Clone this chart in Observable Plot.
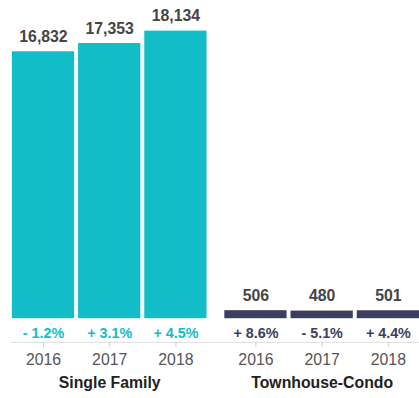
<!DOCTYPE html>
<html>
<head>
<meta charset="utf-8">
<script src="https://cdn.jsdelivr.net/npm/d3@7"></script>
<script src="https://cdn.jsdelivr.net/npm/@observablehq/plot@0.6"></script>
<style>
  html, body { margin: 0; padding: 0; background: #fff; overflow: hidden; }
  #chart { width: 419px; height: 398px; overflow: hidden; }
</style>
</head>
<body>
<div id="chart"></div>
<script>
const groupNames = ["Single Family", "Townhouse-Condo"];
const groups = ["Single Family", "Single Family", "Single Family", "Townhouse-Condo", "Townhouse-Condo", "Townhouse-Condo"];
const years = ["2016", "2017", "2018", "2016", "2017", "2018"];
const values = [16832, 17353, 18134, 506, 480, 501];
const changes = [-1.2, 3.1, 4.5, 8.6, -5.1, 4.4];

const rows = values.map((v, i) => ({group: groups[i], year: years[i], value: v, change: changes[i]}));
const fmtChange = c => (c < 0 ? "- " : "+ ") + Math.abs(c).toFixed(1) + "%";

const W = 424, H = 398, mL = 12, mB = 52;
const font = "'Liberation Sans', Arial, Helvetica, sans-serif";
const teal = "#13bdc7", navy = "#3b3e5c";

const chart = Plot.plot({
  width: W, height: H,
  marginLeft: mL, marginRight: 0, marginTop: 31, marginBottom: mB,
  style: {fontFamily: font, background: "#fff", overflow: "visible"},
  fx: {domain: groupNames, paddingInner: 18 / 215, paddingOuter: 0, label: null, axis: null},
  x: {domain: ["2016", "2017", "2018"], paddingInner: 4 / 67, paddingOuter: 0, label: null, axis: null},
  y: {domain: [0, d3.max(values)], insetBottom: 24, axis: null},
  color: {domain: groupNames, range: [teal, navy]},
  marks: [
    Plot.barY(rows, {fx: "group", x: "year", y: "value", fill: "group"}),
    Plot.text(rows, {fx: "group", x: "year", y: "value", text: d => d3.format(",")(d.value),
      dy: -15, fontWeight: "bold", fontSize: 16, fill: "#444", lineAnchor: "middle"}),
    Plot.text(rows, {fx: "group", x: "year", y: d => 0, text: d => fmtChange(d.change),
      dy: 15, fontWeight: "bold", fontSize: 14.5, lineAnchor: "middle",
      fill: d => d.group === groupNames[0] ? teal : navy}),
    Plot.axisX({tickSize: 5, tickPadding: 6, fontSize: 16, color: "#555", stroke: "#ccc", label: null}),
    Plot.axisFx({anchor: "bottom", tickSize: 0, tickPadding: 35, fontSize: 16, fontWeight: "bold", color: "#222", label: null})
  ]
});

// full-width baseline of the x axis
d3.select(chart).insert("line", ":first-child")
  .attr("x1", mL - 1).attr("x2", W)
  .attr("y1", H - mB + 0.5).attr("y2", H - mB + 0.5)
  .attr("stroke", "#ddd");

document.getElementById("chart").appendChild(chart);
</script>
</body>
</html>
